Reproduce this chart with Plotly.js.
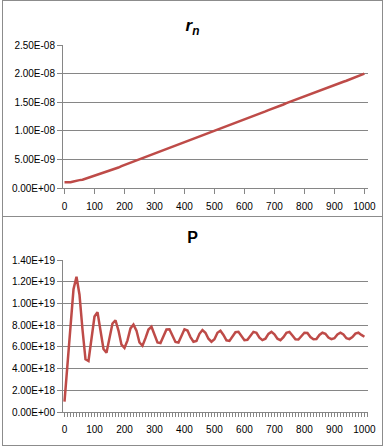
<!DOCTYPE html>
<html>
<head>
<meta charset="utf-8">
<script src="https://cdn.plot.ly/plotly-3.0.1.min.js"></script>
<style>
  html, body { margin:0; padding:0; background:#fff; }
  body { width:384px; height:447px; position:relative; overflow:hidden; }
  .box { position:absolute; left:2px; width:381px; box-sizing:border-box; border:1px solid #8c8c8c; background:#fff; }
  #c1 { top:0px; height:217px; }
  #c2 { top:216px; height:230px; }
</style>
</head>
<body>
<div id="c1" class="box"></div>
<div id="c2" class="box"></div>
<script>
// x positions (steps)
const xSteps = [0,10,20,30,40,50,60,70,80,90,100,110,120,130,140,150,160,170,180,190,200,
  210,220,230,240,250,260,270,280,290,300,310,320,330,340,350,360,370,380,390,400,
  410,420,430,440,450,460,470,480,490,500,510,520,530,540,550,560,570,580,590,600,
  610,620,630,640,650,660,670,680,690,700,710,720,730,740,750,760,770,780,790,800,
  810,820,830,840,850,860,870,880,890,900,910,920,930,940,950,960,970,980,990,1000];

// r_n values in units of 1e-9
const rnE9 = [1.00,1.00,1.02,1.15,1.30,1.38,1.45,1.62,1.80,1.98,2.15,
  2.32,2.50,2.68,2.86,3.05,3.22,3.38,3.58,3.82,4.02,
  4.18,4.36,4.55,4.74,4.92,5.10,5.30,5.55,5.80,5.98,
  6.15,6.32,6.50,6.70,6.90,7.12,7.38,7.58,7.75,7.92,
  8.10,8.30,8.50,8.75,9.00,9.18,9.35,9.55,9.72,9.90,
  10.15,10.38,10.55,10.75,10.95,11.12,11.32,11.55,11.80,12.00,
  12.18,12.36,12.55,12.75,12.95,13.15,13.40,13.62,13.80,13.98,
  14.18,14.38,14.60,14.85,15.05,15.25,15.42,15.60,15.80,16.00,
  16.20,16.48,16.65,16.82,17.00,17.20,17.40,17.62,17.85,18.05,
  18.22,18.40,18.58,18.75,18.95,19.15,19.40,19.60,19.80,20.00];

// P values in units of 1e18
const pE18 = [0.95,4.3,7.9,11.3,12.45,10.8,7.6,4.85,4.7,6.6,8.8,
  9.2,7.6,5.8,5.45,6.9,8.15,8.45,7.5,6.2,5.9,
  6.6,7.7,8.05,7.5,6.4,6.1,6.8,7.6,7.85,7.2,
  6.4,6.35,6.9,7.6,7.62,7.1,6.45,6.4,7.0,7.62,
  7.5,6.9,6.47,6.55,7.2,7.55,7.3,6.75,6.47,6.7,
  7.3,7.48,7.1,6.6,6.55,6.9,7.35,7.38,6.95,6.62,
  6.65,7.05,7.38,7.3,6.85,6.62,6.75,7.2,7.38,7.15,
  6.75,6.62,6.9,7.3,7.38,7.05,6.7,6.68,7.0,7.3,
  7.28,6.9,6.7,6.72,7.1,7.3,7.2,6.85,6.71,6.8,
  7.15,7.3,7.15,6.8,6.71,6.9,7.22,7.3,7.1,6.93];

const xTickVals = [0,100,200,300,400,500,600,700,800,900,1000];
const xTickText = ['0','100','200','300','400','500','600','700','800','900','1000'];

const rnTickVals = [0,5e-9,1e-8,1.5e-8,2e-8,2.5e-8];
const rnTickText = ['0.00E+00','5.00E-09','1.00E-08','1.50E-08','2.00E-08','2.50E-08'];

const pTickVals = [0,2e18,4e18,6e18,8e18,1e19,1.2e19,1.4e19];
const pTickText = ['0.00E+00','2.00E+18','4.00E+18','6.00E+18','8.00E+18','1.00E+19','1.20E+19','1.40E+19'];

const rn = rnE9.map(v => v * 1e-9);
const P = pE18.map(v => v * 1e18);

const gridC = '#868686';
const font = {family:'Liberation Sans, Arial, sans-serif', size:10, color:'#000'};
const lineC = '#be4b48';

function baseX(minor) {
  const ax = {
    range:[-5, 1012], tickvals:xTickVals, ticktext:xTickText,
    showgrid:false, zeroline:false, showline:true, linecolor:gridC, linewidth:1,
    ticks:'outside', ticklen:5, tickcolor:gridC, tickfont:font, ticklabelstandoff:4,
    fixedrange:true
  };
  if (minor) {
    ax.ticklen = 4;
    ax.minor = {ticks:'outside', ticklen:4, tickcolor:gridC, dtick:10, tick0:0, showgrid:false};
  }
  return ax;
}
function baseY(range, vals, text) {
  return {
    range:range, tickvals:vals, ticktext:text,
    showgrid:true, gridcolor:gridC, gridwidth:1, zeroline:false,
    showline:true, linecolor:gridC, linewidth:1,
    ticks:'outside', ticklen:5, tickcolor:gridC, tickfont:font, fixedrange:true
  };
}

Plotly.newPlot('c1', [{
  x:xSteps, y:rn, type:'scatter', mode:'lines',
  line:{color:lineC, width:2.5}, hoverinfo:'none'
}], {
  width:379, height:215,
  margin:{l:60, r:14, t:44, b:28},
  paper_bgcolor:'#fff', plot_bgcolor:'#fff',
  showlegend:false,
  title:{text:'<b><i>r<sub>n</sub></i></b>', font:{family:'Liberation Sans, Arial, sans-serif', size:17, color:'#000'},
    xref:'container', x:0.5, xanchor:'center', yref:'container', y:1-24/215, yanchor:'middle'},
  xaxis:baseX(false),
  yaxis:baseY([0,2.5e-8], rnTickVals, rnTickText)
}, {staticPlot:true, displayModeBar:false});

Plotly.newPlot('c2', [{
  x:xSteps, y:P, type:'scatter', mode:'lines',
  line:{color:lineC, width:2.5}, hoverinfo:'none'
}], {
  width:379, height:228,
  margin:{l:60, r:14, t:43, b:33},
  paper_bgcolor:'#fff', plot_bgcolor:'#fff',
  showlegend:false,
  title:{text:'<b>P</b>', font:{family:'Liberation Sans, Arial, sans-serif', size:16, color:'#000'},
    xref:'container', x:0.5, xanchor:'center', yref:'container', y:1-20/228, yanchor:'middle'},
  xaxis:baseX(true),
  yaxis:baseY([0,1.4e19], pTickVals, pTickText)
}, {staticPlot:true, displayModeBar:false});
</script>
</body>
</html>
